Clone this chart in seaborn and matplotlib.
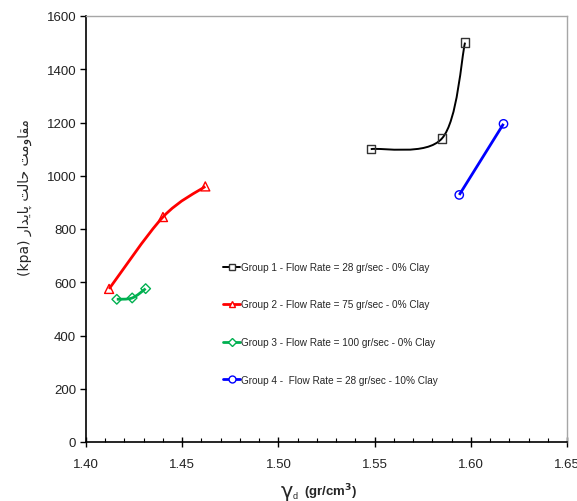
import numpy as np
import pandas as pd
import seaborn as sns
import matplotlib.pyplot as plt
from matplotlib.path import Path
from matplotlib.patches import PathPatch
from matplotlib.lines import Line2D
from matplotlib.ticker import MultipleLocator

# ---- data ----
g1_x = [1.548, 1.585, 1.597]
g1_y = [1100, 1140, 1500]
g2_x = [1.412, 1.440, 1.462]
g2_y = [575, 845, 960]
g3_x = [1.416, 1.424, 1.431]
g3_y = [536, 541, 576]
g4_x = [1.594, 1.617]
g4_y = [928, 1195]

labels = [
    "Group 1 - Flow Rate = 28 gr/sec - 0% Clay",
    "Group 2 - Flow Rate = 75 gr/sec - 0% Clay",
    "Group 3 - Flow Rate = 100 gr/sec - 0% Clay",
    "Group 4 -  Flow Rate = 28 gr/sec - 10% Clay",
]
x_ticks = [1.40, 1.45, 1.50, 1.55, 1.60, 1.65]
y_ticks = [0, 200, 400, 600, 800, 1000, 1200, 1400, 1600]

# Persian label, pre-shaped (presentation forms) in visual order
peh_word = "\uFEAD\uFE8D\uFEAA\uFBFE\uFE8E\uFB58"     # پایدار
halat_word = "\uFE96\uFEDF\uFE8E\uFEA3"               # حالت
moghavemat = "\uFE96\uFEE3\uFEED\uFE8E\uFED8\uFEE3"   # مقاومت
ylabel_text = "(kpa) " + peh_word + " " + halat_word + " " + moghavemat

colors = ["#000000", "#FF0000", "#00B050", "#0000FF"]
markers = ["s", "^", "D", "o"]
msizes = [36, 42, 24, 36]

frames = []
for i, (xs, ys) in enumerate([(g1_x, g1_y), (g2_x, g2_y), (g3_x, g3_y), (g4_x, g4_y)]):
    frames.append(pd.DataFrame({"x": xs, "y": ys, "group": labels[i]}))
df = pd.concat(frames, ignore_index=True)

sns.set_theme(style="white")
plt.rcParams['font.family'] = ['Liberation Sans', 'DejaVu Sans']

fig = plt.figure(figsize=(5.77, 5.02), dpi=100)
ax = fig.add_axes([86/577, 1-443/502, 481/577, 426/502])

ax.set_xlim(1.40, 1.65)
ax.set_ylim(0, 1600)

# scale (px per data unit) used for smoothing in display-like space
sx = 481 / 0.25
sy = 426 / 1600


def smooth_path(xs, ys):
    P = np.column_stack([np.asarray(xs) * sx, np.asarray(ys) * sy])
    n = len(P)
    verts = [P[0]]
    codes = [Path.MOVETO]
    for i in range(n - 1):
        p_prev = P[i - 1] if i > 0 else P[i]
        p_next2 = P[i + 2] if i + 2 < n else P[i + 1]
        c1 = P[i] + (P[i + 1] - p_prev) / 6
        c2 = P[i + 1] - (p_next2 - P[i]) / 6
        verts += [c1, c2, P[i + 1]]
        codes += [Path.CURVE4] * 3
    V = np.array(verts)
    V[:, 0] /= sx
    V[:, 1] /= sy
    return Path(V, codes)


lws = [1.4, 2.0, 2.0, 2.0]
for i, g in enumerate(labels):
    sub = df[df["group"] == g]
    ax.add_patch(PathPatch(smooth_path(sub["x"].values, sub["y"].values),
                           fill=False, edgecolor=colors[i], lw=lws[i], zorder=2))
    sns.scatterplot(data=sub, x="x", y="y", ax=ax, marker=markers[i],
                    s=msizes[i], facecolor="none", edgecolor=colors[i] if i else "#333333",
                    linewidth=1.0, zorder=3, legend=False)

handles = [Line2D([0], [0], color=colors[i], lw=lws[i], marker=markers[i],
                  markersize=5 if i != 2 else 4, markerfacecolor="white",
                  markeredgecolor=colors[i] if i else "#333333", markeredgewidth=1)
           for i in range(4)]
leg = ax.legend(handles, labels, loc="upper left", bbox_to_anchor=((219-86)/481, (443-259)/426),
                frameon=False, fontsize=7.2, handlelength=1.7, handletextpad=0.1,
                labelspacing=2.75, borderaxespad=0)

ax.set_xticks(x_ticks)
ax.set_xticklabels([f"{v:.2f}" for v in x_ticks])
ax.set_yticks(y_ticks)
ax.xaxis.set_minor_locator(MultipleLocator(0.01))
ax.tick_params(axis="x", which="major", direction="inout", length=7, width=1, color="black",
               labelsize=9.5, pad=8, bottom=True, labelcolor="#222222")
ax.tick_params(axis="x", which="minor", direction="in", length=3, width=0.8, color="black", bottom=True)
ax.tick_params(axis="y", which="major", direction="out", length=4, width=1, color="black",
               labelsize=9.5, pad=3, left=True, labelcolor="#222222")

for s in ["left", "bottom"]:
    ax.spines[s].set_color("black")
    ax.spines[s].set_linewidth(1.2)
for s in ["top", "right"]:
    ax.spines[s].set_color("#A6A6A6")
    ax.spines[s].set_linewidth(1.0)

ax.set_ylabel(ylabel_text, fontsize=10, family=['DejaVu Sans'])
ax.yaxis.set_label_coords(-0.112, 0.575)

# x-axis label: large gamma with subscript d, then bold units
ax.set_xlabel("")
fig.text(281/577, 1-498/502, "\u03b3", fontsize=15, ha="left", va="baseline",
         family=['DejaVu Sans'])
fig.text(293/577, 1-499/502, "d", fontsize=6.5, ha="left", va="baseline")
fig.text(304/577, 1-496/502, r"(gr/cm$\mathbf{^3}$)", fontsize=9.5, fontweight="bold",
         ha="left", va="baseline")

fig.savefig("out.png", dpi=100)
